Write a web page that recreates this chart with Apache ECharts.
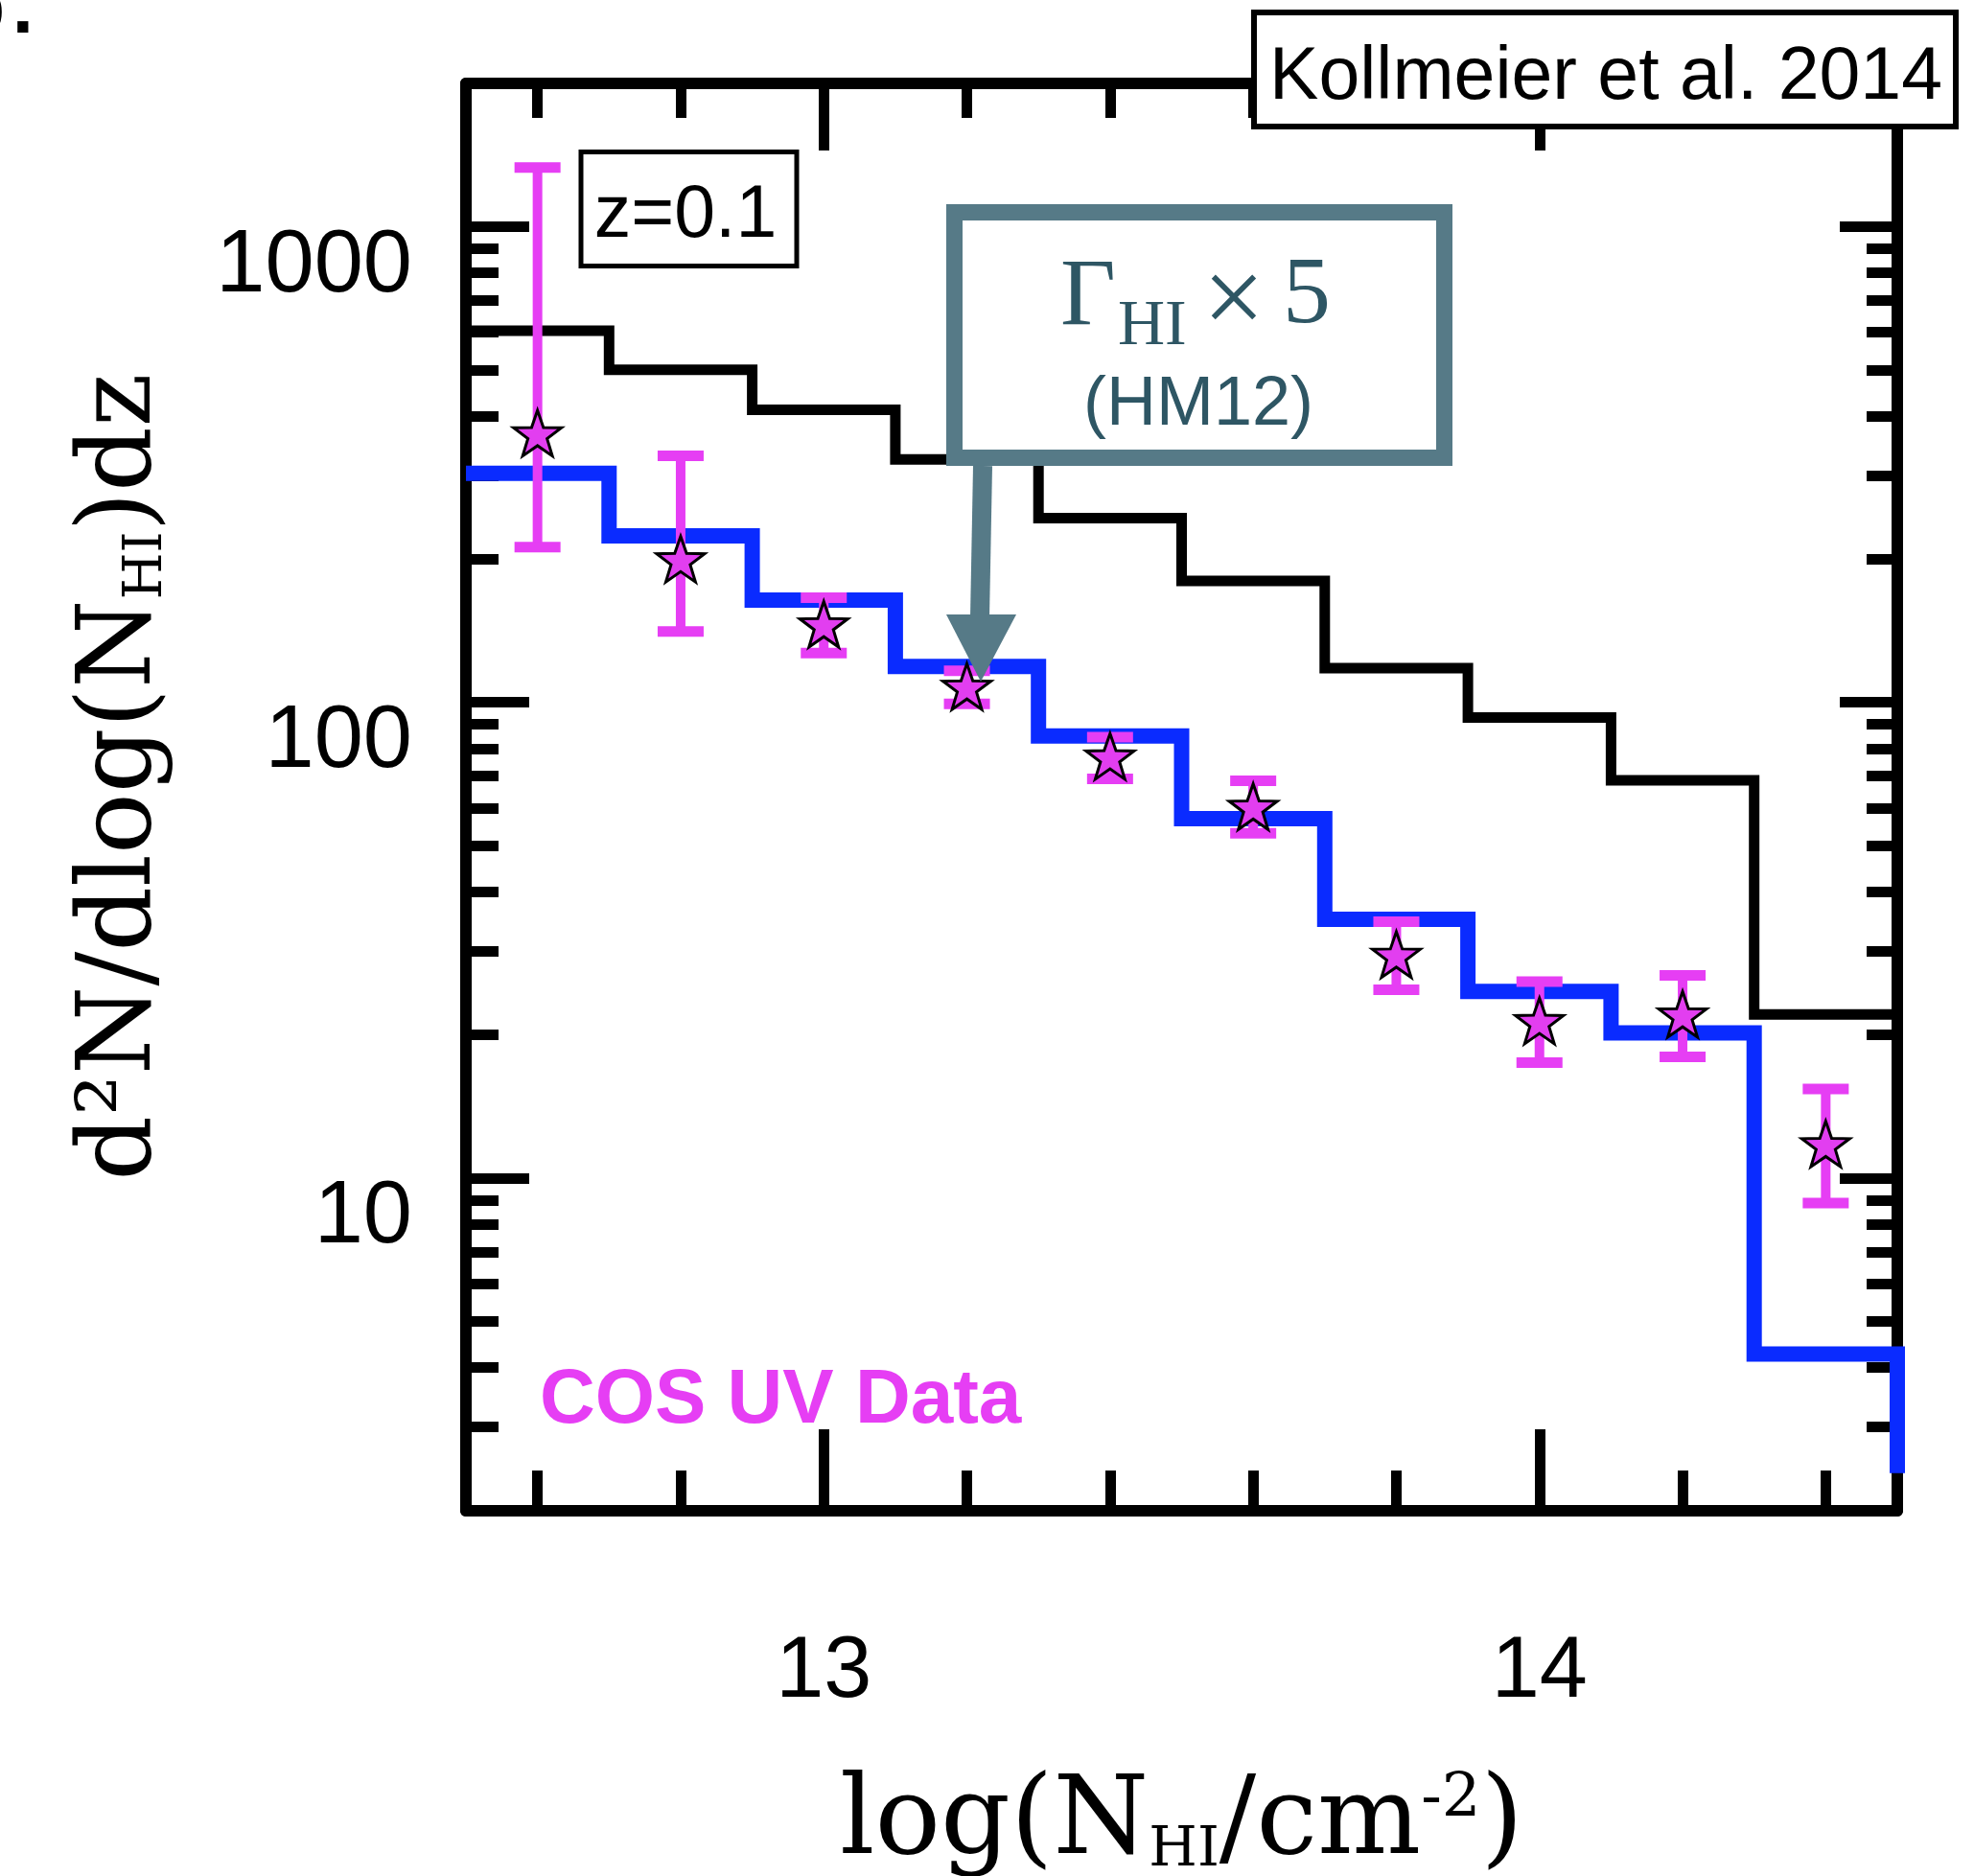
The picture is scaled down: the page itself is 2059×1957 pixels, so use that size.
<!DOCTYPE html>
<html><head><meta charset="utf-8">
<script src="https://cdn.jsdelivr.net/npm/echarts@6/dist/echarts.min.js"></script>
<style>html,body{margin:0;padding:0;background:#fff}#c{width:2059px;height:1957px}</style>
</head><body><div id="c"></div>
<script>
// ---------------- data ----------------
const binEdges = [12.5, 12.7, 12.9, 13.1, 13.3, 13.5, 13.7, 13.9, 14.1, 14.3, 14.5];
const binCenters = [12.6, 12.8, 13.0, 13.2, 13.4, 13.6, 13.8, 14.0, 14.2, 14.4];
const kollmeierHist = [604, 500, 412, 324, 244, 180, 118, 93, 68.6, 22.1];
const gammaX5Hist = [303, 224, 164, 119, 85, 57, 35, 24.7, 20.2, 4.27];
const gammaX5Tail = 2.4;
const cosData = [368, 200, 146, 108, 77, 60.4, 29.5, 21.4, 22.1, 11.8];
const cosErrHigh = [1331, 330, 166, 116.5, 84.5, 68.4, 34.6, 25.9, 26.7, 15.4];
const cosErrLow = [212, 141, 127, 99.3, 69.1, 53.1, 24.9, 17.5, 18.0, 8.87];

const xLabelValues = [13, 14];
const xMajorTicks = [13, 14];
const xMinorTicks = [12.6, 12.8, 13.2, 13.4, 13.6, 13.8, 14.2, 14.4];
const yLabelValues = [10, 100, 1000];
const yMajorTicks = [10, 100, 1000];
const yMinorTicks = [2, 3, 4, 5, 6, 7, 8, 9, 20, 30, 40, 50, 60, 70, 80, 90, 200, 300, 400, 500, 600, 700, 800, 900];

// ---------------- helpers ----------------
function stepPoints(edges, vals) {
  const pts = [];
  for (let i = 0; i < vals.length; i++) {
    pts.push([edges[i], vals[i]]);
    pts.push([edges[i + 1], vals[i]]);
  }
  return pts;
}
const blackPts = stepPoints(binEdges, kollmeierHist);
const bluePts = stepPoints(binEdges, gammaX5Hist);
bluePts.push([binEdges[binEdges.length - 1], gammaX5Tail]);
const errData = binCenters.map((x, i) => [x, cosErrLow[i], cosErrHigh[i]]);
const starData = binCenters.map((x, i) => [x, cosData[i]]);

const MAG = '#e63ef4';
const SLATE = '#567a87';
const SLATE_TXT = '#2e5664';
const lineSt = { color: '#000', width: 12 };
const tickSt = { color: '#000', width: 11 };
const X_MIN = binEdges[0], X_MAX = binEdges[binEdges.length - 1];

function xAx(pos, ticks, len, showLine, extra) {
  return Object.assign({
    type: 'value', min: X_MIN, max: X_MAX, position: pos,
    axisLine: { show: showLine, onZero: false, lineStyle: lineSt },
    axisTick: { show: true, inside: true, length: len, customValues: ticks, lineStyle: tickSt },
    axisLabel: { show: false },
    splitLine: { show: false }
  }, extra || {});
}
function yAx(pos, ticks, len, showLine, extra) {
  return Object.assign({
    type: 'log', logBase: 10, min: 2, max: 2000, position: pos,
    axisLine: { show: showLine, onZero: false, lineStyle: lineSt },
    axisTick: { show: true, inside: true, length: len, customValues: ticks, lineStyle: tickSt },
    axisLabel: { show: false },
    splitLine: { show: false }, minorTick: { show: false }
  }, extra || {});
}

const STAR = 'path://M50,0 L61.76,33.82 L97.55,34.55 L69.02,56.18 L79.39,90.45 L50,70 L20.61,90.45 L30.98,56.18 L2.45,34.55 L38.24,33.82 Z';

const chart = echarts.init(document.getElementById('c'), null, { renderer: 'canvas' });
chart.setOption({
  animation: false,
  backgroundColor: '#ffffff',
  grid: { left: 486, right: 80, top: 87, bottom: 381, containLabel: false, outerBoundsMode: 'none' },
  xAxis: [
    xAx('bottom', xMinorTicks, 42, true, {
      axisLabel: { show: true, customValues: xLabelValues, formatter: v => String(Math.round(v)),
        fontSize: 90, fontFamily: 'Liberation Sans', color: '#000', margin: 124 },
      name: 'log(N{sub|HI}/cm{sup|-2})',
      nameLocation: 'middle', nameGap: 270,
      nameTextStyle: {
        fontFamily: 'DejaVu Serif', fontSize: 114, lineHeight: 114, color: '#000',
        rich: {
          sub: { fontFamily: 'DejaVu Serif', fontSize: 58, verticalAlign: 'bottom', lineHeight: 30, color: '#000' },
          sup: { fontFamily: 'DejaVu Serif', fontSize: 64, verticalAlign: 'top', lineHeight: 60, color: '#000' }
        }
      }
    }),
    xAx('bottom', xMajorTicks, 85, false),
    xAx('top', xMinorTicks, 36, true),
    xAx('top', xMajorTicks, 70, false)
  ],
  yAxis: [
    yAx('left', yMinorTicks, 34, true, {
      axisLabel: { show: true, customValues: yLabelValues, formatter: v => String(Math.round(v)),
        fontSize: 92, fontFamily: 'Liberation Sans', color: '#000', margin: 56,
        verticalAlign: 'top', lineHeight: 84 },
      name: 'd\u00b2N/dlog(N{sub|HI})dz',
      nameLocation: 'middle', nameGap: 305,
      nameTextStyle: {
        fontFamily: 'DejaVu Serif', fontSize: 106, lineHeight: 106, color: '#000', padding: [0, 0, 0, 42],
        rich: {
          sub: { fontFamily: 'DejaVu Serif', fontSize: 56, verticalAlign: 'bottom', lineHeight: 30, color: '#000' }
        }
      }
    }),
    yAx('left', yMajorTicks, 66, false),
    yAx('right', yMinorTicks, 32, true),
    yAx('right', yMajorTicks, 60, false)
  ],
  series: [
    { name: 'Kollmeier', type: 'line', data: blackPts, showSymbol: false, z: 2,
      lineStyle: { color: '#000', width: 11, join: 'miter' } },
    { name: 'GammaX5', type: 'line', data: bluePts, showSymbol: false, z: 3,
      lineStyle: { color: '#0a2bff', width: 16, join: 'miter' } },
    { name: 'COS err', type: 'custom', z: 4, data: errData, encode: { x: 0, y: [1, 2] },
      renderItem: function (params, api) {
        const x = api.value(0);
        const pLo = api.coord([x, api.value(1)]);
        const pHi = api.coord([x, api.value(2)]);
        const cw = 24;
        const st = { stroke: MAG, lineWidth: 10 };
        const cs = { stroke: MAG, lineWidth: 11 };
        return { type: 'group', children: [
          { type: 'line', shape: { x1: pLo[0], y1: pLo[1], x2: pHi[0], y2: pHi[1] }, style: st },
          { type: 'line', shape: { x1: pHi[0] - cw, y1: pHi[1], x2: pHi[0] + cw, y2: pHi[1] }, style: cs },
          { type: 'line', shape: { x1: pLo[0] - cw, y1: pLo[1], x2: pLo[0] + cw, y2: pLo[1] }, style: cs }
        ]};
      }
    },
    { name: 'COS UV Data', type: 'scatter', data: starData, z: 5,
      symbol: STAR, symbolSize: 50, symbolKeepAspect: true,
      itemStyle: { color: '#e23ef0', borderColor: '#000', borderWidth: 3, opacity: 1 } }
  ],
  graphic: [
    { type: 'text', z: 100, x: 5, y: 12, style: { text: 'b', fontFamily: 'Liberation Sans', fontWeight: 'bold', fontSize: 80, fill: '#000', align: 'right', verticalAlign: 'middle' } },
    { type: 'text', z: 100, x: 35, y: 12, style: { text: '.', fontFamily: 'Liberation Sans', fontWeight: 'bold', fontSize: 80, fill: '#000', align: 'right', verticalAlign: 'middle' } },
    { type: 'rect', z: 100, shape: { x: 606, y: 158.5, width: 225, height: 119 }, style: { fill: '#fff', stroke: '#000', lineWidth: 5 } },
    { type: 'text', z: 101, x: 715, y: 226, style: { text: 'z=0.1', fontFamily: 'Liberation Sans', fontSize: 77, fill: '#000', align: 'center', verticalAlign: 'middle' } },
    { type: 'rect', z: 100, shape: { x: 1308, y: 13, width: 732, height: 119 }, style: { fill: '#fff', stroke: '#000', lineWidth: 6 } },
    { type: 'text', z: 101, x: 1675, y: 82, style: { text: 'Kollmeier et al. 2014', fontFamily: 'Liberation Sans', fontSize: 77, fill: '#000', align: 'center', verticalAlign: 'middle' } },
    { type: 'rect', z: 100, shape: { x: 995.5, y: 221.5, width: 511, height: 256 }, style: { fill: '#fff', stroke: SLATE, lineWidth: 17 } },
    { type: 'text', z: 101, x: 1106, y: 312, style: { text: '\u0393', fontFamily: 'Liberation Serif', fontSize: 100, fill: SLATE_TXT, align: 'left', verticalAlign: 'middle' } },
    { type: 'text', z: 101, x: 1166, y: 341, style: { text: 'HI', fontFamily: 'Liberation Serif', fontSize: 68, fill: SLATE_TXT, align: 'left', verticalAlign: 'middle' } },
    { type: 'text', z: 101, x: 1287, y: 318, style: { text: '\u00d7', fontFamily: 'Liberation Serif', fontSize: 114, fill: SLATE_TXT, align: 'center', verticalAlign: 'middle' } },
    { type: 'text', z: 101, x: 1338, y: 310, style: { text: '5', fontFamily: 'Liberation Serif', fontSize: 100, fill: SLATE_TXT, align: 'left', verticalAlign: 'middle' } },
    { type: 'text', z: 101, x: 1250, y: 423, style: { text: '(HM12)', fontFamily: 'Liberation Sans', fontSize: 72, fill: SLATE_TXT, align: 'center', verticalAlign: 'middle' } },
    { type: 'line', z: 102, shape: { x1: 1025, y1: 486, x2: 1022, y2: 645 }, style: { stroke: SLATE, lineWidth: 20 } },
    { type: 'polygon', z: 102, shape: { points: [[987, 641], [1060, 641], [1023, 711]] }, style: { fill: SLATE } },
    { type: 'text', z: 101, x: 563, y: 1462, style: { text: 'COS UV Data', fontFamily: 'Liberation Sans', fontWeight: 'bold', fontSize: 80, fill: MAG, align: 'left', verticalAlign: 'middle' } }
  ]
});
</script></body></html>
